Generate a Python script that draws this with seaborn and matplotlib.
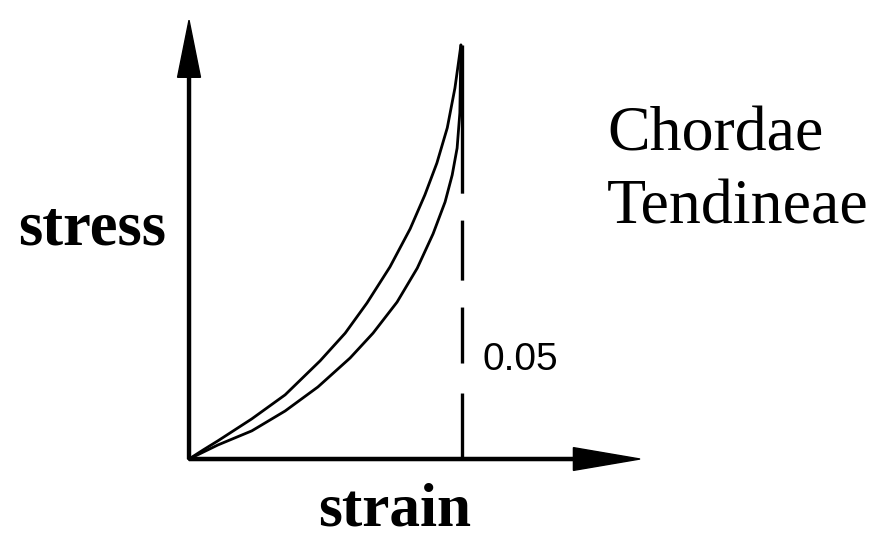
import seaborn as sns
import matplotlib.pyplot as plt
import pandas as pd

# hysteresis loop (strain, normalised stress)
load_strain = [0, 0.0026, 0.0053, 0.0115, 0.0176, 0.0240, 0.0286, 0.0326, 0.0368,
               0.0405, 0.0432, 0.0454, 0.0473, 0.0487, 0.0498]
load_stress = [0, 0.022, 0.044, 0.097, 0.155, 0.237, 0.304, 0.377, 0.464,
               0.556, 0.638, 0.715, 0.800, 0.896, 1.0]
unload_strain = [0.0498, 0.0496, 0.0491, 0.0482, 0.0469, 0.0447, 0.0418, 0.0381, 0.0337,
                 0.0295, 0.0236, 0.0176, 0.0115, 0.0053, 0]
unload_stress = [1.0, 0.836, 0.751, 0.686, 0.621, 0.544, 0.461, 0.379, 0.304,
                 0.244, 0.174, 0.116, 0.068, 0.034, 0]
max_strain = 0.05
max_strain_label = "0.05"

sns.set_style("white")
plt.rcParams["lines.scale_dashes"] = False

fig = plt.figure(figsize=(8.73, 5.39), dpi=100)
ax = fig.add_axes([0, 0, 1, 1])

load_df = pd.DataFrame({"strain": load_strain, "stress": load_stress})
unload_df = pd.DataFrame({"strain": unload_strain, "stress": unload_stress})
sns.lineplot(data=load_df, x="strain", y="stress", sort=False, color="black", lw=2.0, ax=ax)
sns.lineplot(data=unload_df, x="strain", y="stress", sort=False, color="black", lw=2.0, ax=ax)

# dashed marker at maximum strain (drawn from the bottom up)
ax.plot([max_strain, max_strain], [0, 1.0], color="black", lw=2.4,
        dashes=(47.5, 21.6, 40.3, 19.4, 43.2, 19.4, 120, 1))

# axes drawn as arrows
ax.arrow(0, 0, 0, 1.06, width=0.00055, head_width=0.0042, head_length=0.138,
         length_includes_head=True, color="black")
ax.arrow(0, 0, 0.0826, 0, width=0.0075, head_width=0.055, head_length=0.0122,
         length_includes_head=True, color="black")

ax.set_xlim(-0.03462, 0.12527)
ax.set_ylim(-0.1932, 1.1087)
ax.axis("off")

serif = "Liberation Serif"
ax.text(-0.0178, 0.517, "stress", fontsize=45, fontweight="bold", family=serif,
        color="black", ha="center", va="baseline")
ax.text(0.0376, -0.1910, "strain", fontsize=44, fontweight="bold", family=serif,
        color="black", ha="center", va="bottom")
ax.text(0.0538, 0.215, max_strain_label, fontsize=28, family="Liberation Sans",
        color="black", ha="left", va="baseline")
ax.text(0.0766, 0.746, "Chordae", fontsize=46, family=serif, color="black",
        ha="left", va="baseline")
ax.text(0.0766, 0.568, "Tendineae", fontsize=46, family=serif, color="black",
        ha="left", va="baseline")

fig.savefig("out.png", dpi=100)
